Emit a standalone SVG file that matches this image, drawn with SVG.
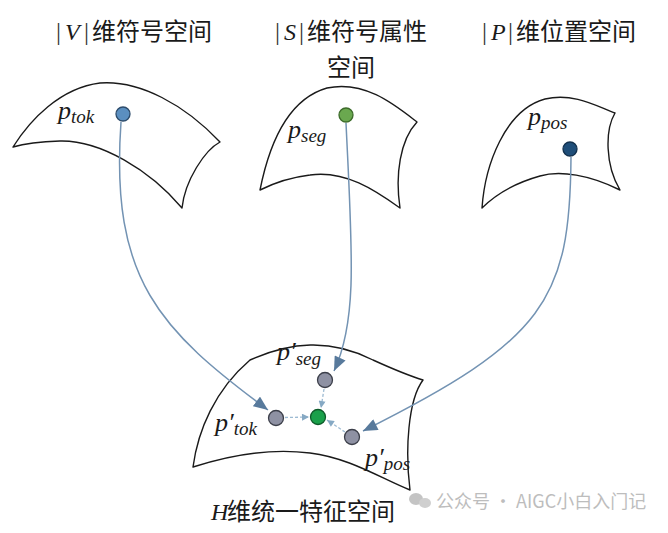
<svg xmlns="http://www.w3.org/2000/svg" width="668" height="533" viewBox="0 0 668 533">
<style>
.bg{fill:#ffffff}
.surf{fill:#ffffff;stroke:#1a1a1a;stroke-width:1.4;stroke-linejoin:round}
.title{font-family:"Noto Sans CJK SC","Liberation Sans",sans-serif;font-size:24px;fill:#1a1a1a}
.mv{font-family:"Liberation Serif",serif;font-style:italic;font-size:24px;fill:#1a1a1a}
.bar{font-family:"Liberation Serif",serif;font-size:25px;fill:#333333}
.pl{font-family:"Liberation Serif",serif;font-style:italic;font-size:26px;fill:#1a1a1a}
.sub{font-size:19px}
.big{fill:none;stroke:#7393b3;stroke-width:1.5}
.small{fill:none;stroke:#9dbbd3;stroke-width:1.3;stroke-dasharray:3 2}
.gray{fill:#8e91a3;stroke:#3c3f4a;stroke-width:1.3}
.wm{font-family:"Noto Sans CJK SC","Liberation Sans",sans-serif;font-size:18px;fill:#bdbdbd}
</style>
<defs>
<marker id="ab" viewBox="0 0 12 10" refX="12" refY="5" markerWidth="15" markerHeight="12" markerUnits="userSpaceOnUse" orient="auto">
<path d="M0,0 L12,5 L0,10 z" fill="#587a9c"/>
</marker>
<marker id="as" viewBox="0 0 10 10" refX="10" refY="5" markerWidth="8" markerHeight="7" markerUnits="userSpaceOnUse" orient="auto">
<path d="M0,0 L10,5 L0,10 z" fill="#86a9c4"/>
</marker>
</defs>
<rect class="bg" x="0" y="0" width="668" height="533"/>

<g id="space-V">
<text class="bar" x="56" y="40">|</text><text class="mv" x="65" y="40">V</text><text class="bar" x="84" y="40">|</text>
<text class="title" x="92" y="40">维符号空间</text>
<path class="surf" d="M13,147 C30,120 60,88 100,83 C140,80 185,105 220,142 C205,150 185,180 182,208 C150,170 100,140 60,141 C35,142 20,145 13,147 Z"/>
<text class="pl" x="58" y="119">p<tspan class="sub" dy="4">tok</tspan></text>
<circle cx="123" cy="114" r="7" fill="#5b8fc0" stroke="#2c4b6b" stroke-width="1.3"/>
</g>

<g id="space-S">
<text class="bar" x="275" y="40">|</text><text class="mv" x="284" y="40">S</text><text class="bar" x="299" y="40">|</text>
<text class="title" x="307" y="40">维符号属性</text>
<text class="title" x="351" y="76" text-anchor="middle">空间</text>
<path class="surf" d="M260,190 C268,150 285,100 327,88 C365,80 395,105 417,122 C400,140 395,175 400,208 C375,190 345,170 310,175 C285,178 270,185 260,190 Z"/>
<text class="pl" x="288" y="138">p<tspan class="sub" dy="4">seg</tspan></text>
<circle cx="346" cy="115" r="7" fill="#6aa84f" stroke="#3c6b2a" stroke-width="1.3"/>
</g>

<g id="space-P">
<text class="bar" x="482" y="40">|</text><text class="mv" x="491" y="40">P</text><text class="bar" x="508" y="40">|</text>
<text class="title" x="516" y="40">维位置空间</text>
<path class="surf" d="M482,208 C485,165 505,110 545,99 C575,92 600,108 615,113 C605,130 605,165 620,190 C590,175 560,170 540,176 C515,183 495,195 482,208 Z"/>
<text class="pl" x="528" y="125">p<tspan class="sub" dy="4">pos</tspan></text>
<circle cx="570" cy="149" r="7" fill="#1f4e79" stroke="#12304d" stroke-width="1.3"/>
</g>

<g id="space-H">
<path class="surf" d="M250,360 C290,342 330,338 373,360 C395,370 410,376 423,380 C408,400 405,450 410,490 C380,478 350,458 310,453 C270,448 230,455 193,467 C198,430 215,390 250,360 Z"/>
<text class="mv" x="211" y="520" font-size="26">H</text>
<text class="title" x="227" y="520" font-size="26">维统一特征空间</text>
<text class="pl" x="277" y="360">p′<tspan class="sub" dy="5">seg</tspan></text>
<text class="pl" x="215" y="431">p′<tspan class="sub" dy="4">tok</tspan></text>
<text class="pl" x="365" y="466">p′<tspan class="sub" dy="4">pos</tspan></text>
<circle class="gray" cx="325" cy="380" r="7.5"/>
<circle class="gray" cx="276" cy="418" r="7.5"/>
<circle class="gray" cx="352" cy="437" r="7.5"/>
<circle cx="318" cy="417" r="7.5" fill="#1aa04a" stroke="#0e5a2a" stroke-width="1.3"/>
</g>

<g id="connectors">
<path class="big" d="M121,122 C110,280 160,330 268,410" marker-end="url(#ab)"/>
<path class="big" d="M346,123 C352,250 358,320 334,371" marker-end="url(#ab)"/>
<path class="big" d="M571,157 C570,300 545,340 363,431" marker-end="url(#ab)"/>
<path class="small" d="M285,417.5 L309,417" marker-end="url(#as)"/>
<path class="small" d="M324,389 L321,408" marker-end="url(#as)"/>
<path class="small" d="M345,432 L327,420" marker-end="url(#as)"/>
</g>

<g id="watermark">
<ellipse cx="416" cy="499" rx="7" ry="6" fill="#c4c4c4"/>
<ellipse cx="425" cy="503" rx="6" ry="5" fill="#cfcfcf"/>
<text class="wm" x="436" y="508">公众号 · AIGC小白入门记</text>
</g>
</svg>
